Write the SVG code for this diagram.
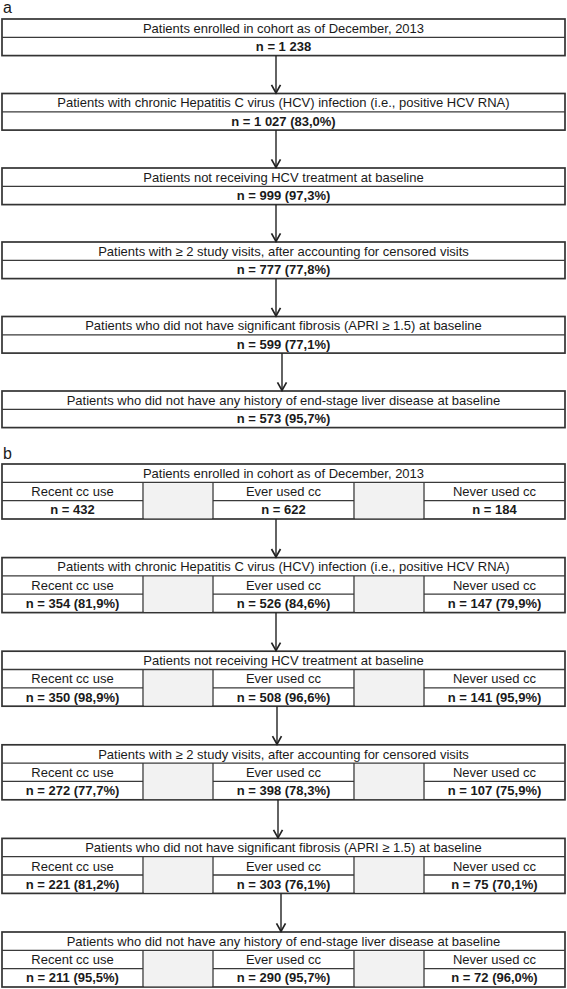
<svg xmlns="http://www.w3.org/2000/svg" width="567" height="989" viewBox="0 0 567 989">
<defs>
<style>
.bg{fill:#ffffff}
.box{fill:#ffffff;stroke:#333333;stroke-width:1.7}
.ln{stroke:#3a3a3a;stroke-width:1.3;fill:none}
.gray{fill:#f2f2f2;stroke:none}
.t{font-family:"Liberation Sans",Arial,sans-serif;font-size:13px;fill:#1a1a1a;text-anchor:middle}
.n{font-family:"Liberation Sans",Arial,sans-serif;font-size:13px;font-weight:bold;fill:#1a1a1a;text-anchor:middle}
.lab{font-family:"Liberation Sans",Arial,sans-serif;font-size:16px;fill:#1a1a1a}
.conn line{stroke:#222222;stroke-width:1.4;marker-end:url(#arr)}
</style>
<marker id="arr" viewBox="0 0 12 12" refX="10.6" refY="6" markerWidth="12" markerHeight="12" markerUnits="userSpaceOnUse" orient="auto">
<path d="M2,1.5 L10,6 L2,10.5" fill="none" stroke="#222222" stroke-width="1.7"/>
</marker>
</defs>
<rect class="bg" x="0" y="0" width="567" height="989"/>
<text class="lab" x="3" y="13">a</text>
<text class="lab" x="3" y="459">b</text>

<g id="a1"><rect class="box" x="2" y="19" width="563" height="36.6"/><line class="ln" x1="2" y1="37.3" x2="565" y2="37.3"/>
<text class="t" x="283.5" y="32.8">Patients enrolled in cohort as of December, 2013</text><text class="n" x="283.5" y="51.1">n = 1 238</text></g>
<g id="a2"><rect class="box" x="2" y="93.5" width="563" height="36.6"/><line class="ln" x1="2" y1="111.8" x2="565" y2="111.8"/>
<text class="t" x="283.5" y="107.3">Patients with chronic Hepatitis C virus (HCV) infection (i.e., positive HCV RNA)</text><text class="n" x="283.5" y="125.6">n = 1 027 (83,0%)</text></g>
<g id="a3"><rect class="box" x="2" y="168" width="563" height="36.6"/><line class="ln" x1="2" y1="186.3" x2="565" y2="186.3"/>
<text class="t" x="283.5" y="181.8">Patients not receiving HCV treatment at baseline</text><text class="n" x="283.5" y="200.1">n = 999 (97,3%)</text></g>
<g id="a4"><rect class="box" x="2" y="242" width="563" height="36.6"/><line class="ln" x1="2" y1="260.3" x2="565" y2="260.3"/>
<text class="t" x="283.5" y="255.8">Patients with ≥ 2 study visits, after accounting for censored visits</text><text class="n" x="283.5" y="274.1">n = 777 (77,8%)</text></g>
<g id="a5"><rect class="box" x="2" y="316.5" width="563" height="36.6"/><line class="ln" x1="2" y1="334.8" x2="565" y2="334.8"/>
<text class="t" x="283.5" y="330.3">Patients who did not have significant fibrosis (APRI ≥ 1.5) at baseline</text><text class="n" x="283.5" y="348.6">n = 599 (77,1%)</text></g>
<g id="a6"><rect class="box" x="2" y="391" width="563" height="36.6"/><line class="ln" x1="2" y1="409.3" x2="565" y2="409.3"/>
<text class="t" x="283.5" y="404.8">Patients who did not have any history of end-stage liver disease at baseline</text><text class="n" x="283.5" y="423.1">n = 573 (95,7%)</text></g>

<g id="b1"><rect class="box" x="2" y="464" width="563" height="55"/>
<rect class="gray" x="144" y="483.3" width="68" height="35"/><rect class="gray" x="355" y="483.3" width="68" height="35"/>
<line class="ln" x1="2" y1="482.3" x2="565" y2="482.3"/><line class="ln" x1="2" y1="500.6" x2="143" y2="500.6"/><line class="ln" x1="213" y1="500.6" x2="354" y2="500.6"/><line class="ln" x1="424" y1="500.6" x2="565" y2="500.6"/>
<line class="ln" x1="143" y1="482.3" x2="143" y2="519"/><line class="ln" x1="213" y1="482.3" x2="213" y2="519"/><line class="ln" x1="354" y1="482.3" x2="354" y2="519"/><line class="ln" x1="424" y1="482.3" x2="424" y2="519"/>
<text class="t" x="283.5" y="477.8">Patients enrolled in cohort as of December, 2013</text>
<text class="t" x="72.5" y="496.1">Recent cc use</text><text class="t" x="283.5" y="496.1">Ever used cc</text><text class="t" x="494.5" y="496.1">Never used cc</text>
<text class="n" x="72.5" y="514.4">n = 432</text><text class="n" x="283.5" y="514.4">n = 622</text><text class="n" x="494.5" y="514.4">n = 184</text></g>

<g id="b2"><rect class="box" x="2" y="557.6" width="563" height="55"/>
<rect class="gray" x="144" y="576.9" width="68" height="35"/><rect class="gray" x="355" y="576.9" width="68" height="35"/>
<line class="ln" x1="2" y1="575.9" x2="565" y2="575.9"/><line class="ln" x1="2" y1="594.2" x2="143" y2="594.2"/><line class="ln" x1="213" y1="594.2" x2="354" y2="594.2"/><line class="ln" x1="424" y1="594.2" x2="565" y2="594.2"/>
<line class="ln" x1="143" y1="575.9" x2="143" y2="612.6"/><line class="ln" x1="213" y1="575.9" x2="213" y2="612.6"/><line class="ln" x1="354" y1="575.9" x2="354" y2="612.6"/><line class="ln" x1="424" y1="575.9" x2="424" y2="612.6"/>
<text class="t" x="283.5" y="571.4">Patients with chronic Hepatitis C virus (HCV) infection (i.e., positive HCV RNA)</text>
<text class="t" x="72.5" y="589.7">Recent cc use</text><text class="t" x="283.5" y="589.7">Ever used cc</text><text class="t" x="494.5" y="589.7">Never used cc</text>
<text class="n" x="72.5" y="608">n = 354 (81,9%)</text><text class="n" x="283.5" y="608">n = 526 (84,6%)</text><text class="n" x="494.5" y="608">n = 147 (79,9%)</text></g>

<g id="b3"><rect class="box" x="2" y="651.2" width="563" height="55"/>
<rect class="gray" x="144" y="670.5" width="68" height="35"/><rect class="gray" x="355" y="670.5" width="68" height="35"/>
<line class="ln" x1="2" y1="669.5" x2="565" y2="669.5"/><line class="ln" x1="2" y1="687.8" x2="143" y2="687.8"/><line class="ln" x1="213" y1="687.8" x2="354" y2="687.8"/><line class="ln" x1="424" y1="687.8" x2="565" y2="687.8"/>
<line class="ln" x1="143" y1="669.5" x2="143" y2="706.2"/><line class="ln" x1="213" y1="669.5" x2="213" y2="706.2"/><line class="ln" x1="354" y1="669.5" x2="354" y2="706.2"/><line class="ln" x1="424" y1="669.5" x2="424" y2="706.2"/>
<text class="t" x="283.5" y="665">Patients not receiving HCV treatment at baseline</text>
<text class="t" x="72.5" y="683.3">Recent cc use</text><text class="t" x="283.5" y="683.3">Ever used cc</text><text class="t" x="494.5" y="683.3">Never used cc</text>
<text class="n" x="72.5" y="701.6">n = 350 (98,9%)</text><text class="n" x="283.5" y="701.6">n = 508 (96,6%)</text><text class="n" x="494.5" y="701.6">n = 141 (95,9%)</text></g>

<g id="b4"><rect class="box" x="2" y="744.8" width="563" height="55"/>
<rect class="gray" x="144" y="764.1" width="68" height="35"/><rect class="gray" x="355" y="764.1" width="68" height="35"/>
<line class="ln" x1="2" y1="763.1" x2="565" y2="763.1"/><line class="ln" x1="2" y1="781.4" x2="143" y2="781.4"/><line class="ln" x1="213" y1="781.4" x2="354" y2="781.4"/><line class="ln" x1="424" y1="781.4" x2="565" y2="781.4"/>
<line class="ln" x1="143" y1="763.1" x2="143" y2="799.8"/><line class="ln" x1="213" y1="763.1" x2="213" y2="799.8"/><line class="ln" x1="354" y1="763.1" x2="354" y2="799.8"/><line class="ln" x1="424" y1="763.1" x2="424" y2="799.8"/>
<text class="t" x="283.5" y="758.6">Patients with ≥ 2 study visits, after accounting for censored visits</text>
<text class="t" x="72.5" y="776.9">Recent cc use</text><text class="t" x="283.5" y="776.9">Ever used cc</text><text class="t" x="494.5" y="776.9">Never used cc</text>
<text class="n" x="72.5" y="795.2">n = 272 (77,7%)</text><text class="n" x="283.5" y="795.2">n = 398 (78,3%)</text><text class="n" x="494.5" y="795.2">n = 107 (75,9%)</text></g>

<g id="b5"><rect class="box" x="2" y="838.4" width="563" height="55"/>
<rect class="gray" x="144" y="857.7" width="68" height="35"/><rect class="gray" x="355" y="857.7" width="68" height="35"/>
<line class="ln" x1="2" y1="856.7" x2="565" y2="856.7"/><line class="ln" x1="2" y1="875" x2="143" y2="875"/><line class="ln" x1="213" y1="875" x2="354" y2="875"/><line class="ln" x1="424" y1="875" x2="565" y2="875"/>
<line class="ln" x1="143" y1="856.7" x2="143" y2="893.4"/><line class="ln" x1="213" y1="856.7" x2="213" y2="893.4"/><line class="ln" x1="354" y1="856.7" x2="354" y2="893.4"/><line class="ln" x1="424" y1="856.7" x2="424" y2="893.4"/>
<text class="t" x="283.5" y="852.2">Patients who did not have significant fibrosis (APRI ≥ 1.5) at baseline</text>
<text class="t" x="72.5" y="870.5">Recent cc use</text><text class="t" x="283.5" y="870.5">Ever used cc</text><text class="t" x="494.5" y="870.5">Never used cc</text>
<text class="n" x="72.5" y="888.8">n = 221 (81,2%)</text><text class="n" x="283.5" y="888.8">n = 303 (76,1%)</text><text class="n" x="494.5" y="888.8">n = 75 (70,1%)</text></g>

<g id="b6"><rect class="box" x="2" y="932" width="563" height="55"/>
<rect class="gray" x="144" y="951.3" width="68" height="35"/><rect class="gray" x="355" y="951.3" width="68" height="35"/>
<line class="ln" x1="2" y1="950.3" x2="565" y2="950.3"/><line class="ln" x1="2" y1="968.6" x2="143" y2="968.6"/><line class="ln" x1="213" y1="968.6" x2="354" y2="968.6"/><line class="ln" x1="424" y1="968.6" x2="565" y2="968.6"/>
<line class="ln" x1="143" y1="950.3" x2="143" y2="987"/><line class="ln" x1="213" y1="950.3" x2="213" y2="987"/><line class="ln" x1="354" y1="950.3" x2="354" y2="987"/><line class="ln" x1="424" y1="950.3" x2="424" y2="987"/>
<text class="t" x="283.5" y="945.8">Patients who did not have any history of end-stage liver disease at baseline</text>
<text class="t" x="72.5" y="964.1">Recent cc use</text><text class="t" x="283.5" y="964.1">Ever used cc</text><text class="t" x="494.5" y="964.1">Never used cc</text>
<text class="n" x="72.5" y="982.4">n = 211 (95,5%)</text><text class="n" x="283.5" y="982.4">n = 290 (95,7%)</text><text class="n" x="494.5" y="982.4">n = 72 (96,0%)</text></g>

<g id="connectors" class="conn">
<line x1="276" y1="55.6" x2="276" y2="93.5"/>
<line x1="276" y1="130.1" x2="276" y2="168"/>
<line x1="276" y1="204.6" x2="276" y2="242"/>
<line x1="276" y1="278.6" x2="276" y2="316.5"/>
<line x1="282" y1="353.1" x2="282" y2="391"/>
<line x1="276" y1="519" x2="276" y2="557.6"/>
<line x1="276" y1="612.6" x2="276" y2="651.2"/>
<line x1="277" y1="706.2" x2="277" y2="744.8"/>
<line x1="278" y1="799.8" x2="278" y2="838.4"/>
<line x1="281" y1="893.4" x2="281" y2="932"/>
</g>
</svg>
